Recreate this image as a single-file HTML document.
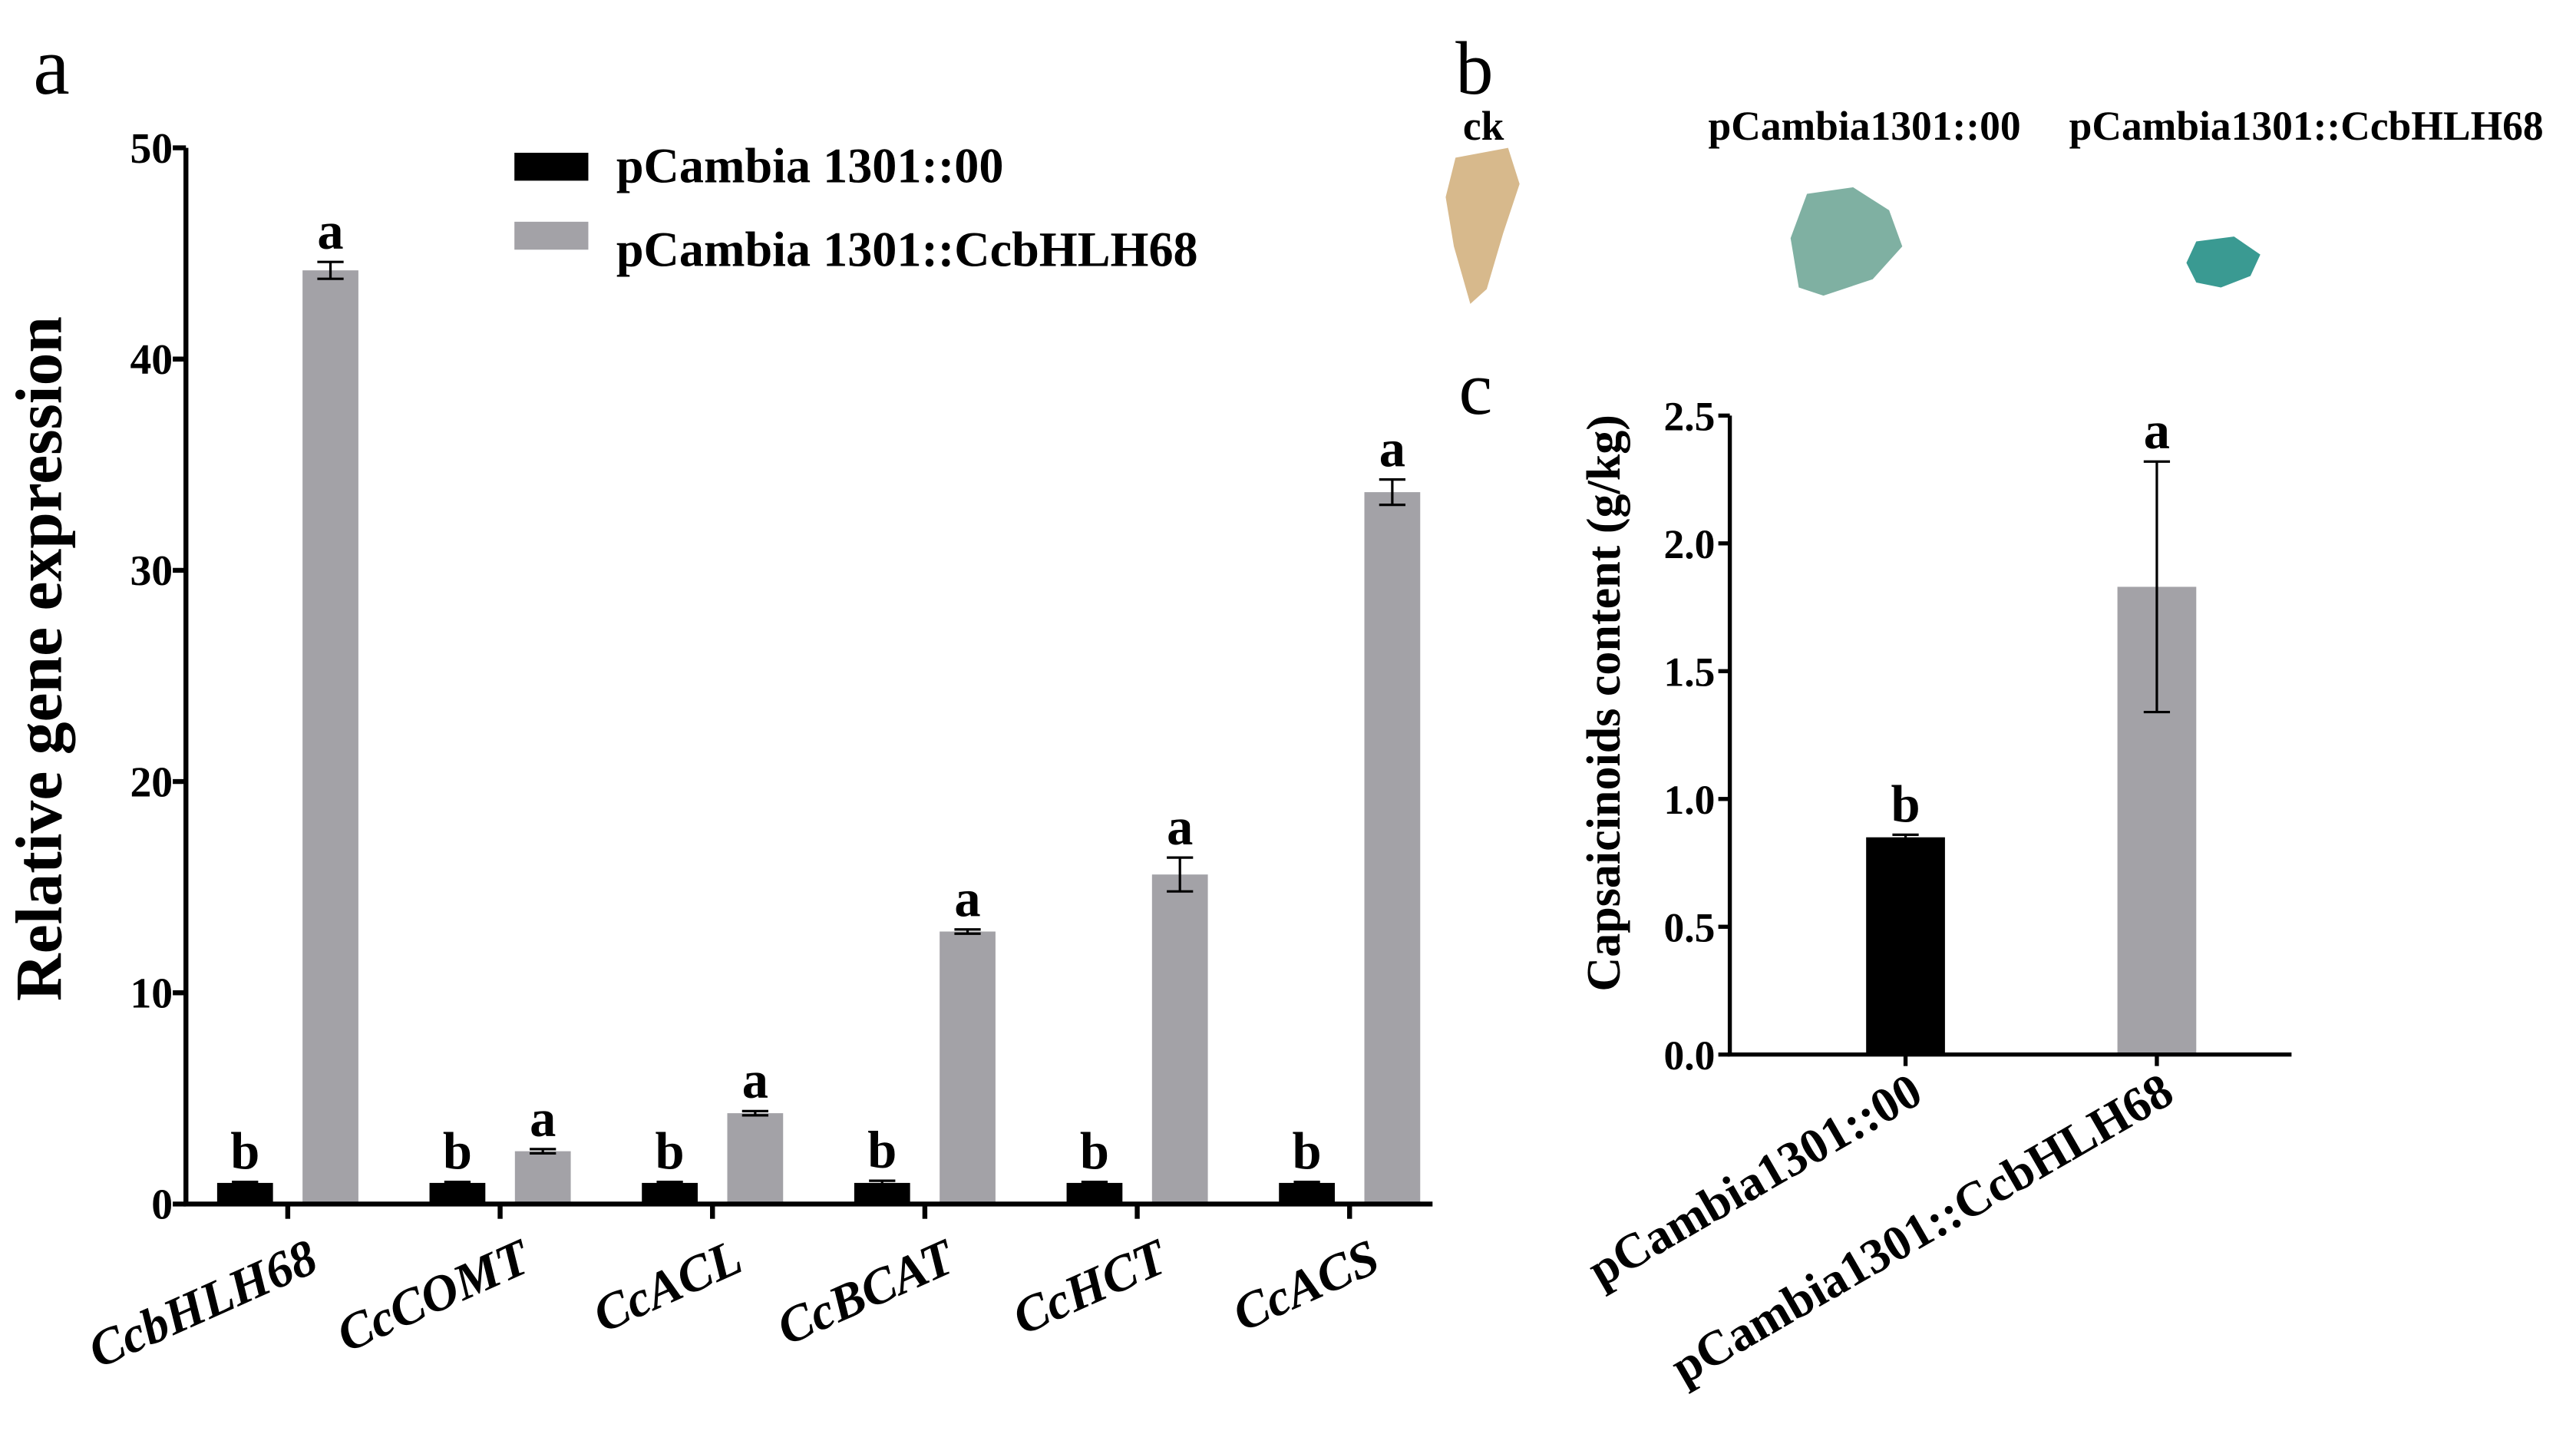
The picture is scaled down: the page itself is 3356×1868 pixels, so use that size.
<!DOCTYPE html>
<html><head><meta charset="utf-8">
<style>
html,body{margin:0;padding:0;background:#fff;}
svg{display:block;font-family:"Liberation Serif",serif;}
</style></head>
<body>
<svg id="fig" width="3356" height="1868" viewBox="0 0 1568 873" xmlns="http://www.w3.org/2000/svg">
<rect width="1568" height="873" fill="#fff"/>
<text x="20" y="57" font-size="50">a</text>
<text x="886" y="57" font-size="46">b</text>
<text x="888" y="252" font-size="46">c</text>
<g font-weight="bold" font-size="25" text-anchor="middle">
<text x="903" y="85">ck</text>
<text x="1135" y="85">pCambia1301::00</text>
<text x="1404" y="85">pCambia1301::CcbHLH68</text>
</g>
<polygon points="886,96 918,90 925,112 915,142 905,176 895,185 885,150 880,120" fill="#d7b98c"/>
<polygon points="1100,118 1128,114 1150,128 1158,150 1140,170 1110,180 1095,175 1090,145" fill="#7fb0a2"/>
<polygon points="1337,147 1360,144 1376,155 1370,168 1352,175 1337,172 1331,160" fill="#3a9a92"/>
<g id="chartA"></g>
<g id="chartC"></g>
</svg>
<script>
const NS="http://www.w3.org/2000/svg";
const genes=["CcbHLH68","CcCOMT","CcACL","CcBCAT","CcHCT","CcACS"];
const ctrlVals=[1.0,1.0,1.0,1.0,1.0,1.0];
const ctrlErr=[0.05,0.05,0.05,0.1,0.05,0.05];
const ohVals=[44.2,2.5,4.3,12.9,15.6,33.7];
const ohErr=[0.4,0.1,0.1,0.1,0.8,0.6];
const ctrlLetters=["b","b","b","b","b","b"];
const ohLetters=["a","a","a","a","a","a"];
const yTicksA=[0,10,20,30,40,50];
const groupsC=["pCambia1301::00","pCambia1301::CcbHLH68"];
const valsC=[0.85,1.83];
const errC=[0.01,0.49];
const lettersC=["b","a"];
const yTicksC=["0.0","0.5","1.0","1.5","2.0","2.5"];

function el(tag,attrs,parent,text){const e=document.createElementNS(NS,tag);for(const k in attrs)e.setAttribute(k,attrs[k]);if(text!==undefined)e.textContent=text;parent.appendChild(e);return e;}

// Chart A
const A=document.getElementById('chartA');
const ax0=113, ay0=733, ayTop=90, axEnd=872;
const yA=v=>ay0-(v/50)*(ay0-ayTop);
const gx=i=>175+i*129.3;
const bw=34;
yTicksA.forEach(t=>{
  const l=el('line',{x1:ax0-8,x2:ax0,y1:yA(t),y2:yA(t),stroke:'#000','stroke-width':3},A);
  
  const tx=el('text',{x:ax0-8,y:yA(t)+9,'text-anchor':'end','font-size':26,'font-weight':'bold'},A,t);
  
});
function bar(g,cx,v,e,fill,yf,base,w,letter,lsize,ename){
  const r=el('rect',{x:cx-w/2,y:yf(v),width:w,height:base-yf(v),fill:fill},g);
  
  const top=yf(v+e), bot=yf(v-e);
  const eb=el('path',{d:`M${cx-8},${top}H${cx+8}M${cx},${top}V${bot}M${cx-8},${bot}H${cx+8}`,stroke:'#000','stroke-width':1.5,fill:'none'},g);
  
  const t=el('text',{x:cx,y:top-8,'text-anchor':'middle','font-size':lsize,'font-weight':'bold'},g,letter);
  
}
genes.forEach((gname,i)=>{
  bar(A,gx(i)-26,ctrlVals[i],ctrlErr[i],'#000',yA,ay0,bw,ctrlLetters[i],32,'bar-control-'+gname);
  bar(A,gx(i)+26,ohVals[i],ohErr[i],'#a3a2a7',yA,ay0,bw,ohLetters[i],32,'bar-overexpression-'+gname);
  const tk=el('line',{x1:gx(i),x2:gx(i),y1:ay0,y2:ay0+9,stroke:'#000','stroke-width':3},A);
  
  const lb=el('text',{x:gx(i)+20,y:ay0+40,'text-anchor':'end','font-size':31,'font-weight':'bold','font-style':'italic',transform:`rotate(-24 ${gx(i)+20} ${ay0+40})`},A,gname);
  
});
const axA=el('path',{d:`M${ax0},${ayTop}V${ay0}H${axEnd}`,stroke:'#000','stroke-width':3,fill:'none'},A);

const ytA=el('text',{x:37,y:401,'text-anchor':'middle','font-size':40,'font-weight':'bold',transform:'rotate(-90 37 401)'},A,'Relative gene expression');

const lg1=el('rect',{x:313,y:93,width:45,height:17,fill:'#000'},A);

const lt1=el('text',{x:375,y:111,'font-size':30,'font-weight':'bold'},A,'pCambia 1301::00');

const lg2=el('rect',{x:313,y:135,width:45,height:17,fill:'#a3a2a7'},A);

const lt2=el('text',{x:375,y:162,'font-size':30,'font-weight':'bold'},A,'pCambia 1301::CcbHLH68');


// Chart C
const C=document.getElementById('chartC');
const cx0=1053, cy0=642, cyTop=253, cxEnd=1395;
const yC=v=>cy0-(v/2.5)*(cy0-cyTop);
const cxs=[1160,1313];
yTicksC.forEach(t=>{
  const v=parseFloat(t);
  const l=el('line',{x1:cx0-7,x2:cx0,y1:yC(v),y2:yC(v),stroke:'#000','stroke-width':2.5},C);
  
  const tx=el('text',{x:cx0-9,y:yC(v)+9,'text-anchor':'end','font-size':25,'font-weight':'bold'},C,t);
  
});
groupsC.forEach((g,i)=>{
  bar(C,cxs[i],valsC[i],errC[i],i==0?'#000':'#a3a2a7',yC,cy0,48,lettersC[i],32,'bar-capsaicinoids-'+g);
  const tk=el('line',{x1:cxs[i],x2:cxs[i],y1:cy0,y2:cy0+7,stroke:'#000','stroke-width':2.5},C);
  
  const lb=el('text',{x:cxs[i]+12,y:cy0+28,'text-anchor':'end','font-size':30,'font-weight':'bold',transform:`rotate(-30 ${cxs[i]+12} ${cy0+28})`},C,g);
  
});
const axC=el('path',{d:`M${cx0},${cyTop}V${cy0}H${cxEnd}`,stroke:'#000','stroke-width':2.5,fill:'none'},C);

const ytC=el('text',{x:986,y:428,'text-anchor':'middle','font-size':29,'font-weight':'bold',transform:'rotate(-90 986 428)'},C,'Capsaicinoids content (g/kg)');

</script>
</body></html>
